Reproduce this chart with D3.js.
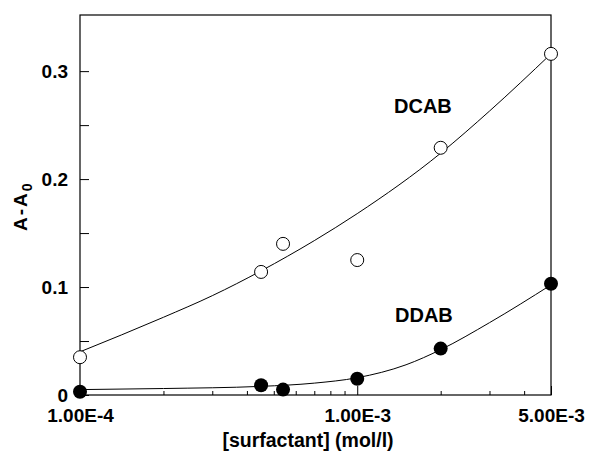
<!DOCTYPE html>
<html>
<head>
<meta charset="utf-8">
<script src="https://cdn.jsdelivr.net/npm/d3@7"></script>
<style>
  body { margin: 0; background: #fff; }
  text { font-family: "Liberation Sans", Arial, sans-serif; fill: #000; }
</style>
</head>
<body>
<div id="chart"></div>
<script>
// measured points (concentration in mol/l, absorbance change)
var dcabConc = [1e-4, 4.5e-4, 5.4e-4, 1e-3, 2e-3, 5e-3];
var dcabVals = [0.035, 0.114, 0.140, 0.125, 0.229, 0.316];
var ddabConc = [1e-4, 4.5e-4, 5.4e-4, 1e-3, 2e-3, 5e-3];
var ddabVals = [0.003, 0.009, 0.005, 0.015, 0.043, 0.103];

// fitted curves
var dcabFitConc = [1e-4, 2e-4, 3e-4, 4.5e-4, 7e-4, 1e-3, 2e-3, 3e-3, 5e-3];
var dcabFitVals = [0.040, 0.072, 0.092, 0.115, 0.143, 0.168, 0.224, 0.263, 0.316];
var ddabFitConc = [1e-4, 2e-4, 4.5e-4, 7e-4, 1e-3, 1.5e-3, 2e-3, 3e-3, 5e-3];
var ddabFitVals = [0.005, 0.006, 0.008, 0.011, 0.016, 0.028, 0.042, 0.067, 0.102];

var xTickVals = [1e-4, 1e-3, 5e-3];
var xTickLabels = ["1.00E-4", "1.00E-3", "5.00E-3"];
var xMinorTicks = [2e-4, 3e-4, 4e-4, 5e-4, 6e-4, 7e-4, 8e-4, 9e-4, 2e-3, 3e-3, 4e-3];
var yTickVals = [0, 0.1, 0.2, 0.3];
var yTickLabels = ["0", "0.1", "0.2", "0.3"];
var yMinorTicks = [0.05, 0.15, 0.25];

var width = 590, height = 453;
var margin = {top: 15, right: 39, bottom: 58, left: 80};

var svg = d3.select("#chart").append("svg")
    .attr("width", width)
    .attr("height", height);

var x = d3.scaleLog()
    .domain([1e-4, 5e-3])
    .range([margin.left, width - margin.right]);

var y = d3.scaleLinear()
    .domain([0, 0.352])
    .range([height - margin.bottom, margin.top]);

var g = svg.append("g");

// frame
g.append("rect")
    .attr("x", x.range()[0]).attr("y", y.range()[1])
    .attr("width", x.range()[1] - x.range()[0])
    .attr("height", y.range()[0] - y.range()[1])
    .attr("fill", "none")
    .attr("stroke", "#000")
    .attr("stroke-width", 1.2);

// y axis ticks (pointing inward)
var yAxis = d3.axisLeft(y)
    .tickValues(yTickVals.concat(yMinorTicks))
    .tickSize(-9)
    .tickFormat(function(d) {
        var i = yTickVals.indexOf(d);
        return i >= 0 ? yTickLabels[i] : "";
    });

g.append("g")
    .attr("transform", "translate(" + margin.left + ",0)")
    .call(yAxis)
    .call(function(a) {
        a.select(".domain").remove();
        a.selectAll(".tick line").attr("stroke", "#000");
        a.selectAll(".tick text")
            .attr("x", -12)
            .style("font-size", "19px")
            .style("font-weight", "bold");
    });

// x axis minor ticks
var xMinor = d3.axisBottom(x)
    .tickValues(xMinorTicks)
    .tickSize(-4)
    .tickFormat("");

g.append("g")
    .attr("transform", "translate(0," + y(0) + ")")
    .call(xMinor)
    .call(function(a) {
        a.select(".domain").remove();
        a.selectAll(".tick line").attr("stroke", "#000");
    });

// x axis major ticks + labels
var xAxis = d3.axisBottom(x)
    .tickValues(xTickVals)
    .tickSize(-9)
    .tickFormat(function(d, i) { return xTickLabels[i]; });

g.append("g")
    .attr("transform", "translate(0," + y(0) + ")")
    .call(xAxis)
    .call(function(a) {
        a.select(".domain").remove();
        a.selectAll(".tick line").attr("stroke", "#000");
        a.selectAll(".tick text")
            .attr("y", 14)
            .style("font-size", "19px")
            .style("font-weight", "bold");
    });

// axis titles
svg.append("text")
    .attr("x", 308)
    .attr("y", 447)
    .attr("text-anchor", "middle")
    .style("font-size", "19.5px")
    .style("font-weight", "bold")
    .text("[surfactant] (mol/l)");

var yTitle = svg.append("text")
    .attr("transform", "translate(27,231) rotate(-90)")
    .style("font-size", "19px")
    .style("font-weight", "bold")
    .style("letter-spacing", "2px");
yTitle.append("tspan").text("A-A");
yTitle.append("tspan").attr("dy", 5).style("font-size", "14px").text("0");

// fitted curves
var line = d3.line()
    .x(function(d) { return x(d[0]); })
    .y(function(d) { return y(d[1]); })
    .curve(d3.curveMonotoneX);

g.append("path")
    .datum(d3.zip(dcabFitConc, dcabFitVals))
    .attr("d", line)
    .attr("fill", "none")
    .attr("stroke", "#000")
    .attr("stroke-width", 1);

g.append("path")
    .datum(d3.zip(ddabFitConc, ddabFitVals))
    .attr("d", line)
    .attr("fill", "none")
    .attr("stroke", "#000")
    .attr("stroke-width", 1);

// points
g.selectAll(".dcab")
    .data(d3.zip(dcabConc, dcabVals))
    .enter().append("circle")
    .attr("class", "dcab")
    .attr("cx", function(d) { return x(d[0]); })
    .attr("cy", function(d) { return y(d[1]); })
    .attr("r", 6.5)
    .attr("fill", "#fff")
    .attr("stroke", "#000")
    .attr("stroke-width", 1);

g.selectAll(".ddab")
    .data(d3.zip(ddabConc, ddabVals))
    .enter().append("circle")
    .attr("class", "ddab")
    .attr("cx", function(d) { return x(d[0]); })
    .attr("cy", function(d) { return y(d[1]); })
    .attr("r", 7)
    .attr("fill", "#000");

// series labels
g.append("text")
    .attr("x", 394).attr("y", 113)
    .style("font-size", "20px")
    .style("font-weight", "bold")
    .text("DCAB");

g.append("text")
    .attr("x", 395).attr("y", 322)
    .style("font-size", "20px")
    .style("font-weight", "bold")
    .text("DDAB");
</script>
</body>
</html>
